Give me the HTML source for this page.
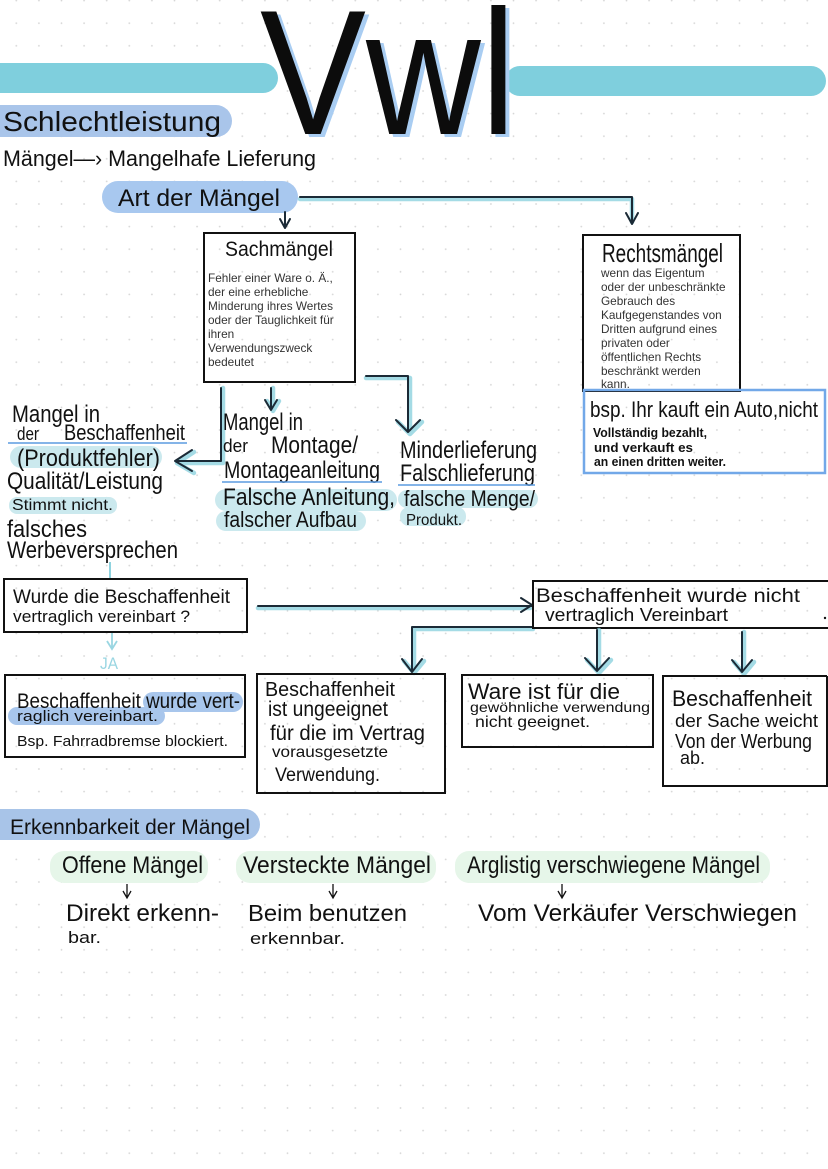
<!DOCTYPE html>
<html><head><meta charset="utf-8">
<style>
html,body{margin:0;padding:0;background:#fff;}
svg{display:block}
text{font-family:"Liberation Sans",sans-serif;fill:#111;}
.h{font-family:"Liberation Sans Narrow","Liberation Sans",sans-serif;}
.b{font-family:"Liberation Sans",sans-serif;fill:#333;font-size:11.8px;}
.box{fill:none;stroke:#111;stroke-width:2;}
.ln{fill:none;stroke:#1b2a36;stroke-width:2;stroke-linecap:round;stroke-linejoin:round;}
.gl{fill:none;stroke:#86cfdc;stroke-width:4.5;stroke-linecap:round;stroke-linejoin:round;opacity:.75;}
.ul{stroke:#5b9be0;stroke-width:1.6;}
.hl{fill:#cbe9ee;}
.pill{fill:#a9c5ea;}
.gr{fill:#e6f6e9;}
</style></head>
<body>
<svg width="828" height="1169" viewBox="0 0 828 1169" xmlns="http://www.w3.org/2000/svg">
<defs>
<pattern id="dots" width="22.6" height="22.6" patternUnits="userSpaceOnUse" x="5" y="-10.7">
<circle cx="11.3" cy="11.3" r="0.9" fill="#d4d4d4"/>
</pattern>
</defs>
<rect width="828" height="1169" fill="#fff"/>
<rect width="828" height="1169" fill="url(#dots)"/>

<!-- header bars -->
<rect x="-20" y="63" width="298" height="30" rx="15" fill="#7fcfdd"/>
<rect x="505" y="66" width="321" height="30" rx="15" fill="#7fcfdd"/>

<!-- Vwl -->
<text x="264" y="137" font-size="178" textLength="256" lengthAdjust="spacingAndGlyphs" style="fill:#a9cdf2">Vwl</text>
<text x="260" y="134" font-size="178" textLength="256" lengthAdjust="spacingAndGlyphs" style="fill:#0c0c0c">Vwl</text>

<!-- Schlechtleistung -->
<rect x="-15" y="105" width="247" height="32" rx="16" class="pill"/>
<text class="h" x="3" y="131" font-size="28" textLength="218" lengthAdjust="spacingAndGlyphs">Schlechtleistung</text>
<text class="h" x="3" y="166" font-size="22" textLength="313" lengthAdjust="spacingAndGlyphs">Mängel—› Mangelhafe Lieferung</text>

<!-- Art der Mängel -->
<rect x="102" y="181" width="196" height="32" rx="16" fill="#a8c8ef"/>
<text class="h" x="118" y="206" font-size="24" textLength="162" lengthAdjust="spacingAndGlyphs">Art der Mängel</text>

<!-- connectors top -->
<path class="gl" d="M300 199 H632 V222"/>
<path class="ln" d="M300 197 H632 V222 M626 213 L632 224 L638 213"/>
<path class="ln" d="M285 212 V227 M280 219 L285 228 L290 219"/>

<!-- Sachmängel box -->
<rect x="204" y="233" width="151" height="149" class="box"/>
<text class="h" x="225" y="256" font-size="21" textLength="108" lengthAdjust="spacingAndGlyphs">Sachmängel</text>
<text class="b" x="208" y="282">Fehler einer Ware o. Ä.,</text>
<text class="b" x="208" y="296">der eine erhebliche</text>
<text class="b" x="208" y="310">Minderung ihres Wertes</text>
<text class="b" x="208" y="324">oder der Tauglichkeit für</text>
<text class="b" x="208" y="338">ihren</text>
<text class="b" x="208" y="352">Verwendungszweck</text>
<text class="b" x="208" y="366">bedeutet</text>

<!-- Rechtsmängel box -->
<rect x="583" y="235" width="157" height="156" class="box"/>
<text class="h" x="602" y="262" font-size="26" textLength="121" lengthAdjust="spacingAndGlyphs">Rechtsmängel</text>
<text class="b" x="601" y="277">wenn das Eigentum</text>
<text class="b" x="601" y="291">oder der unbeschränkte</text>
<text class="b" x="601" y="305">Gebrauch des</text>
<text class="b" x="601" y="319">Kaufgegenstandes von</text>
<text class="b" x="601" y="333">Dritten aufgrund eines</text>
<text class="b" x="601" y="347">privaten oder</text>
<text class="b" x="601" y="361">öffentlichen Rechts</text>
<text class="b" x="601" y="375">beschränkt werden</text>
<text class="b" x="601" y="388">kann.</text>

<!-- bsp box -->
<rect x="584" y="390" width="241" height="83" fill="none" stroke="#72a8e8" stroke-width="2.5"/>
<text class="h" x="590" y="417" font-size="22" textLength="228" lengthAdjust="spacingAndGlyphs">bsp. Ihr kauft ein Auto,nicht</text>
<text class="h" x="593" y="437" font-size="13" font-weight="bold" textLength="114" lengthAdjust="spacingAndGlyphs">Vollständig bezahlt,</text>
<text class="h" x="594" y="452" font-size="13" font-weight="bold" textLength="99" lengthAdjust="spacingAndGlyphs">und verkauft es</text>
<text class="h" x="594" y="466" font-size="13" font-weight="bold" textLength="132" lengthAdjust="spacingAndGlyphs">an einen dritten weiter.</text>

<!-- Sachmängel connectors -->
<path class="gl" d="M223 388 V463 H177 M194 452 L177 463 L194 473"/>
<path class="ln" d="M221 388 V461 H175 M192 450 L175 461 L192 471"/>
<path class="gl" d="M273 388 V409 M267 401 L273 411 L279 401"/>
<path class="ln" d="M271 388 V408 M265 400 L271 410 L277 400"/>
<path class="gl" d="M366 378 H410 V431 M398 422 L410 434 L422 422"/>
<path class="ln" d="M366 376 H408 V431 M396 420 L408 432 L420 420"/>

<!-- left column text -->
<text class="h" x="12" y="422" font-size="24" textLength="88" lengthAdjust="spacingAndGlyphs">Mangel in</text>
<text class="h" x="17" y="440" font-size="18" textLength="22" lengthAdjust="spacingAndGlyphs">der</text>
<text class="h" x="64" y="440" font-size="22" textLength="121" lengthAdjust="spacingAndGlyphs">Beschaffenheit</text>
<line x1="8" y1="443" x2="187" y2="443" class="ul"/>
<rect x="10" y="446" width="152" height="22" rx="11" class="hl"/>
<text class="h" x="17" y="466" font-size="24" textLength="143" lengthAdjust="spacingAndGlyphs">(Produktfehler)</text>
<text class="h" x="7" y="489" font-size="24" textLength="156" lengthAdjust="spacingAndGlyphs">Qualität/Leistung</text>
<rect x="9" y="497" width="108" height="17" rx="8" class="hl"/>
<text class="h" x="12" y="510" font-size="16" textLength="101" lengthAdjust="spacingAndGlyphs">Stimmt nicht.</text>
<text class="h" x="7" y="537" font-size="24" textLength="80" lengthAdjust="spacingAndGlyphs">falsches</text>
<text class="h" x="7" y="558" font-size="24" textLength="171" lengthAdjust="spacingAndGlyphs">Werbeversprechen</text>

<!-- middle column text -->
<text class="h" x="223" y="430" font-size="24" textLength="80" lengthAdjust="spacingAndGlyphs">Mangel in</text>
<text class="h" x="223" y="452" font-size="18" textLength="25" lengthAdjust="spacingAndGlyphs">der</text>
<text class="h" x="271" y="453" font-size="24" textLength="87" lengthAdjust="spacingAndGlyphs">Montage/</text>
<text class="h" x="224" y="478" font-size="24" textLength="156" lengthAdjust="spacingAndGlyphs">Montageanleitung</text>
<line x1="222" y1="482" x2="382" y2="482" class="ul"/>
<rect x="215" y="489" width="182" height="22" rx="11" class="hl"/>
<rect x="216" y="511" width="150" height="20" rx="10" class="hl"/>
<text class="h" x="223" y="505" font-size="24" textLength="172" lengthAdjust="spacingAndGlyphs">Falsche Anleitung,</text>
<text class="h" x="224" y="527" font-size="22" textLength="133" lengthAdjust="spacingAndGlyphs">falscher Aufbau</text>

<!-- right column text -->
<text class="h" x="400" y="458" font-size="24" textLength="137" lengthAdjust="spacingAndGlyphs">Minderlieferung</text>
<text class="h" x="400" y="481" font-size="24" textLength="135" lengthAdjust="spacingAndGlyphs">Falschlieferung</text>
<line x1="398" y1="485" x2="535" y2="485" class="ul"/>
<rect x="398" y="490" width="140" height="18" rx="9" class="hl"/>
<rect x="400" y="507" width="66" height="19" rx="9" class="hl"/>
<text class="h" x="404" y="506" font-size="22" textLength="131" lengthAdjust="spacingAndGlyphs">falsche Menge/</text>
<text class="h" x="406" y="525" font-size="16" textLength="56" lengthAdjust="spacingAndGlyphs">Produkt.</text>

<!-- teal link -->
<line x1="110" y1="562" x2="110" y2="579" stroke="#8fd3df" stroke-width="2"/>

<!-- Wurde box -->
<rect x="4" y="579" width="243" height="53" class="box"/>
<text class="h" x="13" y="603" font-size="19" textLength="217" lengthAdjust="spacingAndGlyphs">Wurde die Beschaffenheit</text>
<text class="h" x="13" y="622" font-size="17" textLength="177" lengthAdjust="spacingAndGlyphs">vertraglich vereinbart ?</text>

<!-- JA -->
<path d="M112 633 V648 M107 641 L112 649 L117 641" fill="none" stroke="#9ad6e2" stroke-width="1.8"/>
<text class="h" x="100" y="669" font-size="17" textLength="18" lengthAdjust="spacingAndGlyphs" style="fill:#9ad6e2">JA</text>

<!-- horizontal arrows -->
<path class="gl" d="M258 608 H530"/>
<path class="ln" d="M258 606 H532 M521 598 L532 605 L521 612"/>
<path class="gl" d="M533 629 H414 V671 M404 661 L414 673 L424 661"/>
<path class="ln" d="M533 627 H412 V671 M402 659 L412 672 L422 659"/>

<!-- nicht box -->
<path class="box" d="M828 581 H533 V628 H828"/>
<circle cx="825" cy="618" r="1.2" fill="#111"/>
<text class="h" x="536" y="602" font-size="19" textLength="264" lengthAdjust="spacingAndGlyphs">Beschaffenheit wurde nicht</text>
<text class="h" x="545" y="621" font-size="18" textLength="183" lengthAdjust="spacingAndGlyphs">vertraglich Vereinbart</text>

<path class="gl" d="M599 630 V670 M587 660 L599 673 L611 660"/>
<path class="ln" d="M597 630 V670 M585 658 L597 671 L609 658"/>
<path class="gl" d="M744 632 V672 M734 662 L744 674 L754 662"/>
<path class="ln" d="M742 632 V672 M732 660 L742 672 L752 660"/>

<!-- JA case box -->
<rect x="5" y="675" width="240" height="82" class="box"/>
<rect x="143" y="692" width="100" height="20" rx="10" fill="#a8c6ec"/>
<rect x="8" y="707" width="157" height="18" rx="9" fill="#a8c6ec"/>
<text class="h" x="17" y="708" font-size="21" textLength="223" lengthAdjust="spacingAndGlyphs">Beschaffenheit wurde vert-</text>
<text class="h" x="17" y="721" font-size="15" textLength="141" lengthAdjust="spacingAndGlyphs">raglich vereinbart.</text>
<text class="h" x="17" y="746" font-size="15" textLength="211" lengthAdjust="spacingAndGlyphs">Bsp. Fahrradbremse blockiert.</text>

<!-- ungeeignet box -->
<rect x="257" y="674" width="188" height="119" class="box"/>
<text class="h" x="265" y="696" font-size="20" textLength="130" lengthAdjust="spacingAndGlyphs">Beschaffenheit</text>
<text class="h" x="268" y="716" font-size="21" textLength="120" lengthAdjust="spacingAndGlyphs">ist ungeeignet</text>
<text class="h" x="270" y="740" font-size="21" textLength="155" lengthAdjust="spacingAndGlyphs">für die im Vertrag</text>
<text class="h" x="272" y="757" font-size="16" textLength="116" lengthAdjust="spacingAndGlyphs">vorausgesetzte</text>
<text class="h" x="275" y="781" font-size="19" textLength="105" lengthAdjust="spacingAndGlyphs">Verwendung.</text>

<!-- Ware box -->
<rect x="462" y="675" width="191" height="72" class="box"/>
<text class="h" x="468" y="699" font-size="22" textLength="152" lengthAdjust="spacingAndGlyphs">Ware ist für die</text>
<text class="h" x="470" y="712" font-size="14" textLength="180" lengthAdjust="spacingAndGlyphs">gewöhnliche verwendung</text>
<text class="h" x="475" y="727" font-size="16" textLength="115" lengthAdjust="spacingAndGlyphs">nicht geeignet.</text>

<!-- weicht box -->
<path class="box" d="M827 676 H663 V786 H827 V676"/>
<text class="h" x="672" y="706" font-size="22" textLength="140" lengthAdjust="spacingAndGlyphs">Beschaffenheit</text>
<text class="h" x="675" y="727" font-size="18" textLength="143" lengthAdjust="spacingAndGlyphs">der Sache weicht</text>
<text class="h" x="675" y="748" font-size="20" textLength="137" lengthAdjust="spacingAndGlyphs">Von der Werbung</text>
<text class="h" x="680" y="764" font-size="18" textLength="25" lengthAdjust="spacingAndGlyphs">ab.</text>

<!-- Erkennbarkeit -->
<rect x="-15" y="809" width="275" height="31" rx="15.5" fill="#a8c4e8"/>
<text class="h" x="10" y="834" font-size="21" textLength="240" lengthAdjust="spacingAndGlyphs">Erkennbarkeit der Mängel</text>

<rect x="50" y="851" width="158" height="32" rx="14" class="gr"/>
<rect x="236" y="851" width="200" height="32" rx="14" class="gr"/>
<rect x="455" y="851" width="315" height="32" rx="14" class="gr"/>
<text class="h" x="62" y="873" font-size="24" textLength="141" lengthAdjust="spacingAndGlyphs">Offene Mängel</text>
<text class="h" x="243" y="873" font-size="24" textLength="188" lengthAdjust="spacingAndGlyphs">Versteckte Mängel</text>
<text class="h" x="467" y="873" font-size="24" textLength="293" lengthAdjust="spacingAndGlyphs">Arglistig verschwiegene Mängel</text>

<path d="M127 884 V897 M123 891 L127 898 L131 891 M333 884 V897 M329 891 L333 898 L337 891 M562 884 V897 M558 891 L562 898 L566 891" fill="none" stroke="#111" stroke-width="1.3"/>

<text class="h" x="66" y="921" font-size="24" textLength="153" lengthAdjust="spacingAndGlyphs">Direkt erkenn-</text>
<text class="h" x="68" y="943" font-size="17" textLength="33" lengthAdjust="spacingAndGlyphs">bar.</text>
<text class="h" x="248" y="921" font-size="23" textLength="159" lengthAdjust="spacingAndGlyphs">Beim benutzen</text>
<text class="h" x="250" y="944" font-size="17" textLength="95" lengthAdjust="spacingAndGlyphs">erkennbar.</text>
<text class="h" x="478" y="921" font-size="24" textLength="319" lengthAdjust="spacingAndGlyphs">Vom Verkäufer Verschwiegen</text>
</svg>
</body></html>
